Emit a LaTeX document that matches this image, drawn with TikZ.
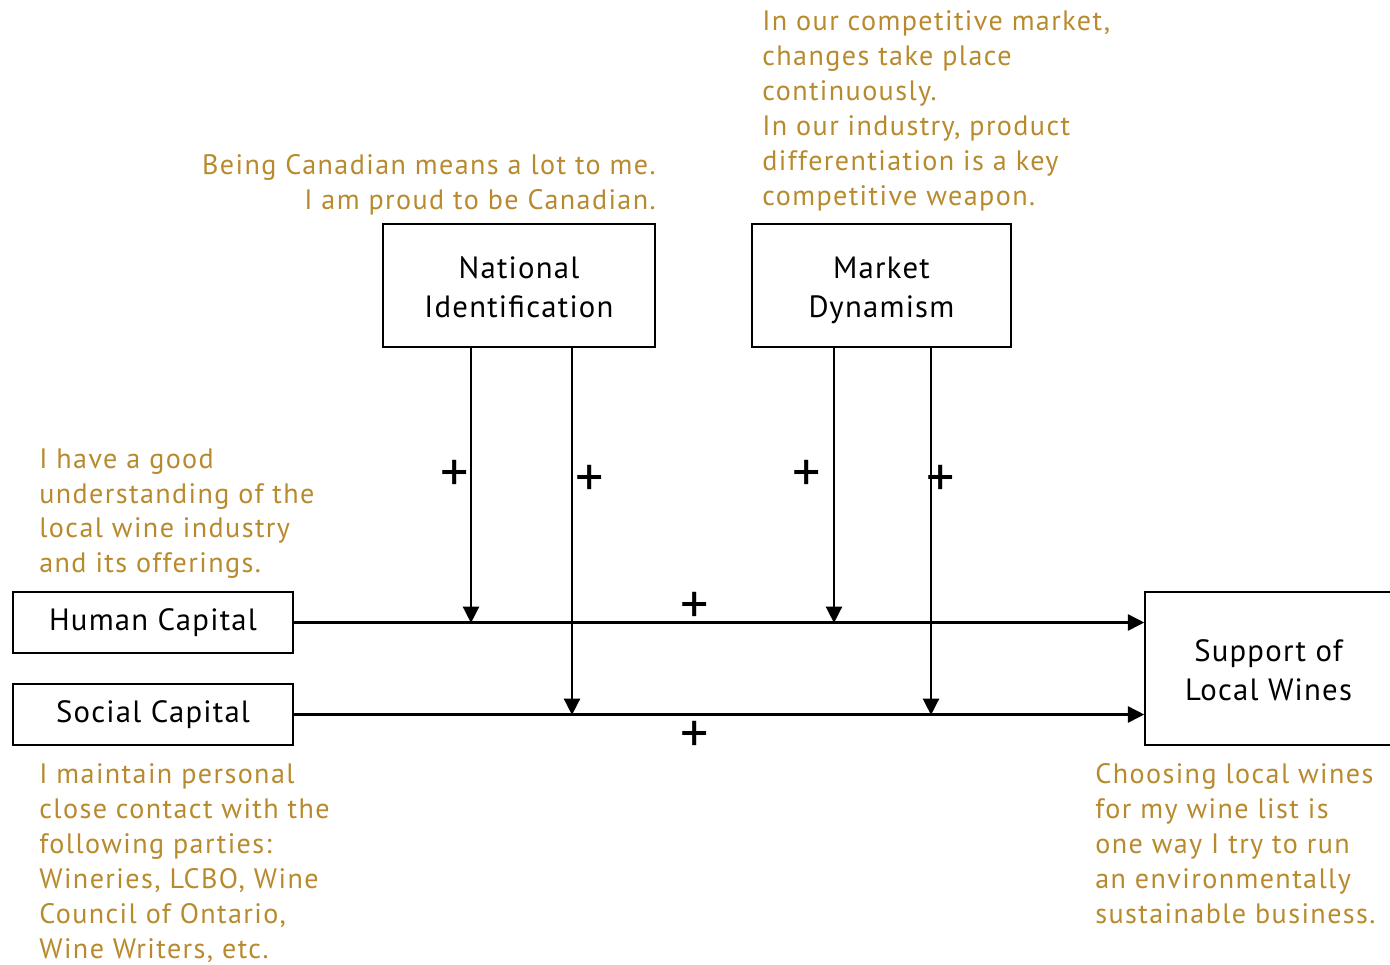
\documentclass[tikz,border=0pt]{standalone}
\usepackage{fontspec}
\setmainfont{PT Sans}[LetterSpace=4]
\newfontfamily\itemfont{PT Sans}[LetterSpace=5]
\usepackage{xcolor}
\usetikzlibrary{arrows.meta}
\definecolor{quotegold}{RGB}{184,138,46}
\newcommand{\capline}{\rule{0pt}{21pt}}

\begin{document}
\begin{tikzpicture}[
  x=0.02cm, y=-0.02cm,
  construct/.style={draw, line width=0.8pt, align=center, inner sep=0pt,
    font=\fontsize{17.5}{22.5}\selectfont},
  item/.style={text=quotegold, inner sep=0pt, font=\itemfont\fontsize{16}{19.9}\selectfont},
  arr/.style={-{Triangle[length=0.33cm, width=0.32cm]}, line width=1.6pt},
  sign/.style={inner sep=0pt, font=\fontsize{32}{32}\selectfont}
]
  \useasboundingbox (0,0) rectangle (1390,964);
  % constructs
  \node[construct, minimum width=5.44cm, minimum height=2.46cm] (ni) at (519,285.5)
    {\capline National\\Identification\strut};
  \node[construct, minimum width=5.18cm, minimum height=2.46cm] (md) at (881.5,285.5)
    {\capline Market\\Dynamism\strut};
  \node[construct, minimum width=5.6cm, minimum height=1.22cm] (hc) at (153,622.5)
    {Human Capital};
  \node[construct, minimum width=5.6cm, minimum height=1.22cm] (sc) at (153,714.5)
    {Social Capital};
  \node[construct, minimum width=4.94cm, minimum height=3.06cm] (slw) at (1268.5,668.5)
    {\capline Support of\\Local Wines\strut};
  % survey items
  \node[item, anchor=north east, align=right] (niq) at (656,154)
    {Being Canadian means a lot to me.\\I am proud to be Canadian.};
  \node[item, anchor=north west, align=left] (mdq) at (762,10)
    {In our competitive market,\\changes take place\\continuously.\\In our industry, product\\differentiation is a key\\competitive weapon.};
  \node[item, anchor=north west, align=left] (hcq) at (39,448)
    {I have a good\\understanding of the\\local wine industry\\and its offerings.};
  \node[item, anchor=north west, align=left] (scq) at (39,763)
    {I maintain personal\\close contact with the\\following parties:\\Wineries, LCBO, Wine\\Council of Ontario,\\Wine Writers, etc.};
  \node[item, anchor=north west, align=left] (slwq) at (1095,763)
    {Choosing local wines\\for my wine list is\\one way I try to run\\an environmentally\\sustainable business.};
  % moderation points
  \coordinate (nih) at (471,623);
  \coordinate (nis) at (572,715);
  \coordinate (mdh) at (834,623);
  \coordinate (mds) at (931,715);
  % paths
  \draw[arr] (hc.east) -- (hc.east -| slw.west);
  \draw[arr] (sc.east) -- (sc.east -| slw.west);
  \draw[arr] (ni.south -| nih) -- (nih);
  \draw[arr] (ni.south -| nis) -- (nis);
  \draw[arr] (md.south -| mdh) -- (mdh);
  \draw[arr] (md.south -| mds) -- (mds);
  % signs
  \node[sign] (p1) at (455,476) {+};
  \node[sign] (p2) at (590,481) {+};
  \node[sign] (p3) at (807,476) {+};
  \node[sign] (p4) at (941,481) {+};
  \node[sign] (p5) at (695,608) {+};
  \node[sign] (p6) at (695,737) {+};
\end{tikzpicture}
\end{document}
